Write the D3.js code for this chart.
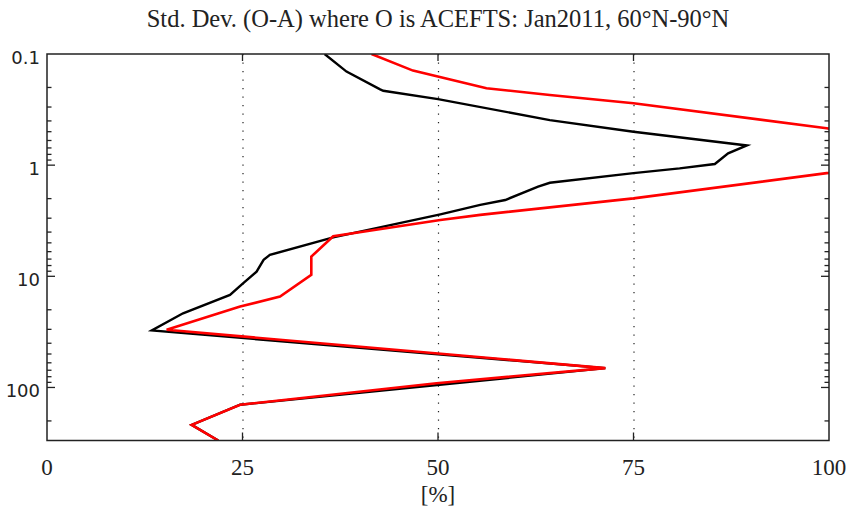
<!DOCTYPE html>
<html>
<head>
<meta charset="utf-8">
<script src="https://cdn.jsdelivr.net/npm/d3@7"></script>
<style>
  body { margin: 0; background: #fff; }
  svg { display: block; }
  .ylab { font-family: "DejaVu Sans", sans-serif; font-size: 18px; fill: #222; }
  .xlab { font-family: "Liberation Serif", "Times New Roman", serif; font-size: 23px; fill: #222; }
  .title { font-family: "Liberation Serif", "Times New Roman", serif; font-size: 24.5px; fill: #222; }
</style>
</head>
<body>
<div id="chart"></div>
<script>
// percent std. dev. vs pressure (hPa)
const blackPct = [35.5, 38.3, 42.6, 43.0, 50.0, 64.3, 75.0, 89.5, 87.1, 85.4, 80.9, 75.0, 64.3, 62.8, 58.6, 55.4, 50.3, 36.6, 28.5, 27.7, 26.8, 25.1, 23.4, 17.4, 13.4, 71.4, 24.7, 18.5, 21.9];
const blackP   = [0.1, 0.144, 0.208, 0.214, 0.255, 0.393, 0.50, 0.665, 0.782, 0.976, 1.07, 1.18, 1.44, 1.56, 2.06, 2.28, 2.77, 4.47, 6.42, 7.12, 9.07, 11.5, 14.7, 21.5, 30.7, 67, 143, 217, 300];

const redPct = [41.5, 46.8, 56.2, 64.3, 75.0, 99.7, 123, 99.7, 75.0, 55.4, 50.3, 36.6, 33.8, 33.8, 29.8, 24.7, 15.3, 71.4, 49.8, 24.7, 18.5, 21.9];
const redP   = [0.1, 0.141, 0.203, 0.234, 0.277, 0.466, 0.73, 1.18, 1.99, 2.8, 3.11, 4.36, 6.65, 9.71, 15.2, 18.7, 30.3, 67, 91.5, 143, 217, 300];

const xTicks = [0, 25, 50, 75, 100];
const yMajor = [0.1, 1, 10, 100];
const titleText = "Std. Dev. (O-A) where O is ACEFTS: Jan2011, 60\u00b0N-90\u00b0N";

const W = 849, H = 511;
const mLeft = 47, mRight = 829, mTop = 54, mBottom = 440.5;

const x = d3.scaleLinear().domain([0, 100]).range([mLeft, mRight]);
const y = d3.scaleLog().domain([0.1, 300]).range([mTop, mBottom]);

const svg = d3.select("#chart").append("svg")
  .attr("width", W)
  .attr("height", H);

svg.append("defs").append("clipPath").attr("id", "plotclip")
  .append("rect")
  .attr("x", mLeft).attr("y", mTop)
  .attr("width", mRight - mLeft).attr("height", mBottom - mTop);

// dotted grid
svg.append("g").selectAll("line")
  .data(xTicks.slice(1, -1))
  .join("line")
  .attr("x1", d => x(d) + 0.5).attr("x2", d => x(d) + 0.5)
  .attr("y1", mTop).attr("y2", mBottom)
  .attr("stroke", "#222")
  .attr("stroke-width", 1.2)
  .attr("stroke-dasharray", "1.2,7.3");

// profiles
const line = d3.line().x(d => x(d[0])).y(d => y(d[1]));
const plot = svg.append("g").attr("clip-path", "url(#plotclip)");

plot.append("path")
  .datum(d3.zip(blackPct, blackP))
  .attr("d", line)
  .attr("fill", "none")
  .attr("stroke", "#000")
  .attr("stroke-width", 2.4)
  .attr("stroke-linejoin", "miter");

plot.append("path")
  .datum(d3.zip(redPct, redP))
  .attr("d", line)
  .attr("fill", "none")
  .attr("stroke", "#ff0000")
  .attr("stroke-width", 2.6)
  .attr("stroke-linejoin", "miter");

// frame
svg.append("rect")
  .attr("x", mLeft).attr("y", mTop)
  .attr("width", mRight - mLeft).attr("height", mBottom - mTop)
  .attr("fill", "none")
  .attr("stroke", "#222")
  .attr("stroke-width", 1.5);

// x ticks (inward, top and bottom)
const tickG = svg.append("g").attr("stroke", "#222").attr("stroke-width", 1.3);
xTicks.slice(1, -1).forEach(t => {
  tickG.append("line").attr("x1", x(t)).attr("x2", x(t)).attr("y1", mBottom).attr("y2", mBottom - 8);
  tickG.append("line").attr("x1", x(t)).attr("x2", x(t)).attr("y1", mTop).attr("y2", mTop + 7);
});

// y ticks, major and minor, both sides
y.ticks().filter(t => t > 0.1 && t < 300).forEach(t => {
  const major = yMajor.includes(+t.toPrecision(3));
  const len = major ? 8 : 4.5;
  tickG.append("line").attr("x1", mLeft).attr("x2", mLeft + len).attr("y1", y(t)).attr("y2", y(t));
  tickG.append("line").attr("x1", mRight).attr("x2", mRight - len).attr("y1", y(t)).attr("y2", y(t));
});

svg.append("g").selectAll("text")
  .data(yMajor)
  .join("text")
  .attr("class", "ylab")
  .attr("x", 40)
  .attr("y", d => y(d) + 9.5)
  .attr("text-anchor", "end")
  .text(d => d3.format("~g")(d));

svg.append("g").selectAll("text")
  .data(xTicks)
  .join("text")
  .attr("class", "xlab")
  .attr("x", d => x(d))
  .attr("y", 475)
  .attr("text-anchor", "middle")
  .text(d => d);

svg.append("text")
  .attr("class", "xlab")
  .attr("x", x(50))
  .attr("y", 502)
  .attr("text-anchor", "middle")
  .text("[%]");

svg.append("text")
  .attr("class", "title")
  .attr("x", x(50))
  .attr("y", 27)
  .attr("text-anchor", "middle")
  .text(titleText);
</script>
</body>
</html>
